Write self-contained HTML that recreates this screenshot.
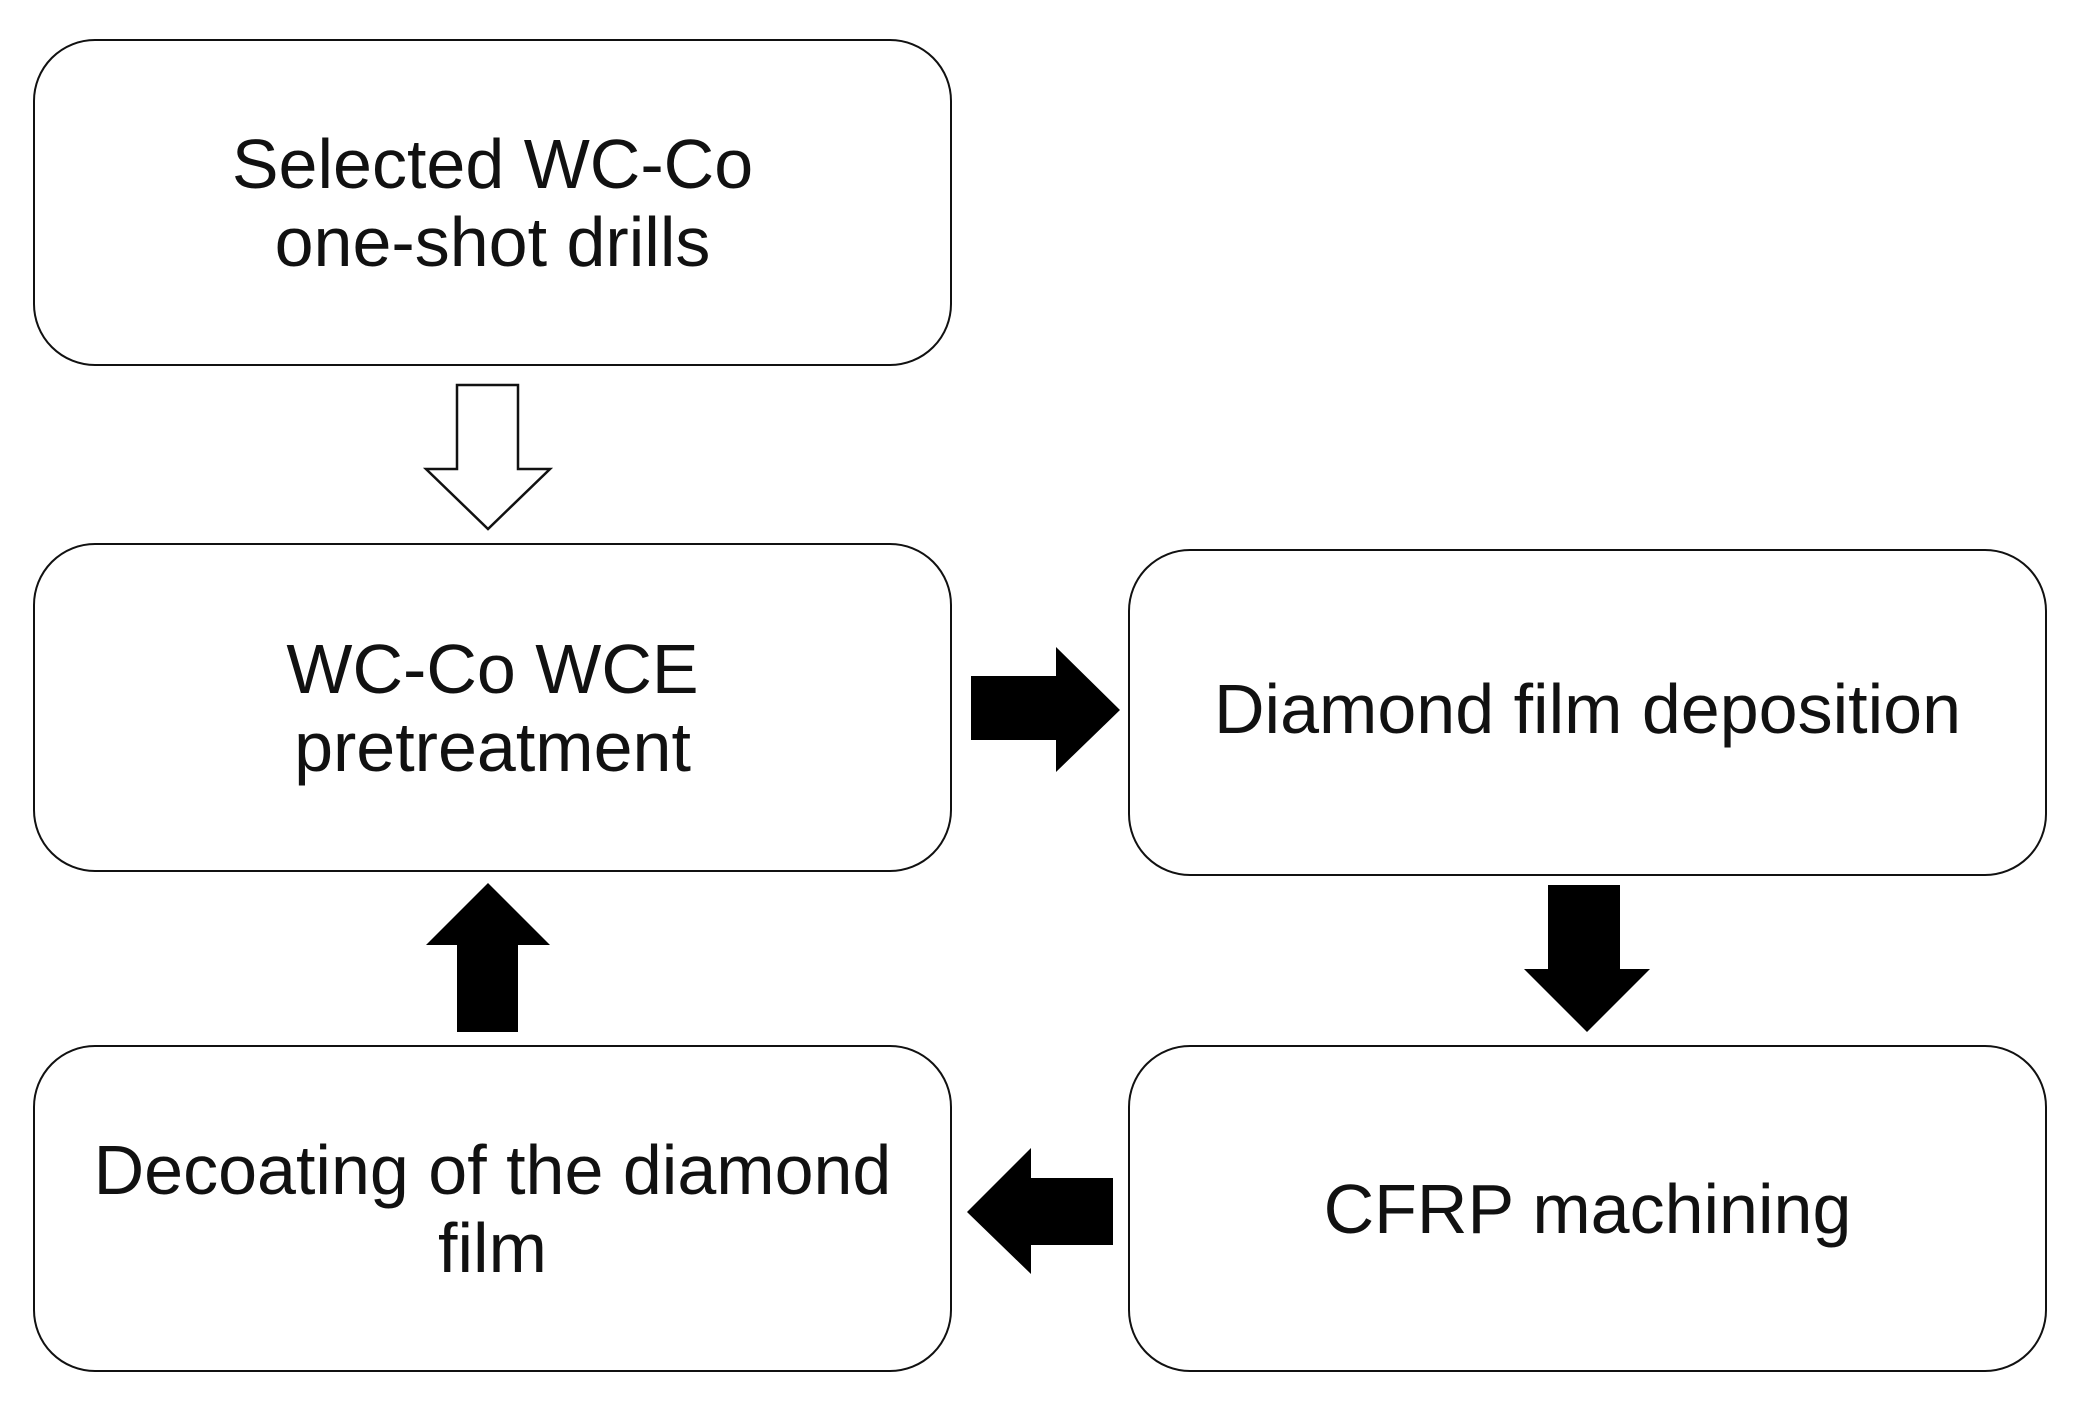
<!DOCTYPE html>
<html><head><meta charset="utf-8"><style>
html,body{margin:0;padding:0;background:#fff;}
body{width:2080px;height:1404px;position:relative;overflow:hidden;font-family:"Liberation Sans",Arial,sans-serif;}
.b{position:absolute;box-sizing:border-box;border:2.5px solid #111;border-radius:62px;display:flex;align-items:center;justify-content:center;text-align:center;font-size:70px;line-height:78px;color:#111;}
svg{position:absolute;left:0;top:0;}
</style></head><body>
<div class="b" style="left:33px;top:39px;width:919px;height:327px;">Selected WC-Co<br>one-shot drills</div>
<div class="b" style="left:33px;top:543px;width:919px;height:329px;">WC-Co WCE<br>pretreatment</div>
<div class="b" style="left:1128px;top:549px;width:919px;height:327px;padding-bottom:8px;">Diamond film deposition</div>
<div class="b" style="left:1128px;top:1045px;width:919px;height:327px;">CFRP machining</div>
<div class="b" style="left:33px;top:1045px;width:919px;height:327px;">Decoating of the diamond<br>film</div>
<svg width="2080" height="1404">
<polygon points="457,385 518,385 518,469 550,469 488,529 426,469 457,469" fill="#fff" stroke="#111" stroke-width="2.5"/>
<polygon points="971,676 1056,676 1056,647 1120,710 1056,772 1056,740 971,740" fill="#000"/>
<polygon points="1548,885 1620,885 1620,969 1650,969 1587,1032 1524,969 1548,969" fill="#000"/>
<polygon points="1113,1178 1113,1245 1031,1245 1031,1274 967,1212 1031,1148 1031,1178" fill="#000"/>
<polygon points="457,1032 518,1032 518,945 550,945 488,883 426,945 457,945" fill="#000"/>
</svg>
</body></html>
